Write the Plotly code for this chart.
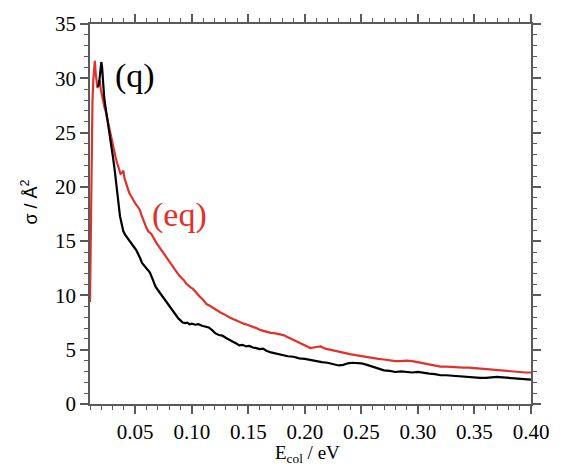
import plotly.graph_objects as go

# Collision energy (eV) and cross section (Å^2) for the quasiclassical run (q)
e_q = [0.0170, 0.0180, 0.0190, 0.0200, 0.0207, 0.0215, 0.0225, 0.0235, 0.0248, 0.0262,
       0.0277, 0.0290, 0.0305, 0.0320, 0.0336, 0.0350, 0.0365, 0.0380, 0.0395, 0.0410,
       0.0425, 0.0440, 0.0455, 0.0470, 0.0485, 0.0500, 0.0513, 0.0530, 0.0545, 0.0560,
       0.0575, 0.0590, 0.0610, 0.0630, 0.0650, 0.0665, 0.0680, 0.0700, 0.0720, 0.0740,
       0.0760, 0.0780, 0.0800, 0.0820, 0.0840, 0.0860, 0.0880, 0.0900, 0.0920, 0.0940,
       0.0960, 0.0980, 0.1000, 0.1030, 0.1060, 0.1090, 0.1120, 0.1150, 0.1180, 0.1210,
       0.1240, 0.1270, 0.1300, 0.1330, 0.1360, 0.1390, 0.1420, 0.1450, 0.1480, 0.1510,
       0.1540, 0.1570, 0.1600, 0.1630, 0.1660, 0.1700, 0.1740, 0.1780, 0.1810, 0.1850,
       0.1900, 0.1950, 0.2000, 0.2050, 0.2100, 0.2150, 0.2200, 0.2250, 0.2300, 0.2340,
       0.2380, 0.2420, 0.2460, 0.2500, 0.2550, 0.2600, 0.2650, 0.2700, 0.2750, 0.2800,
       0.2850, 0.2900, 0.2950, 0.3000, 0.3050, 0.3100, 0.3150, 0.3200, 0.3250, 0.3300,
       0.3350, 0.3400, 0.3450, 0.3500, 0.3550, 0.3600, 0.3650, 0.3700, 0.3750, 0.3800,
       0.3850, 0.3900, 0.3950, 0.4000]
sigma_q = [29.2, 29.5, 30.5, 31.5, 31.0, 29.5, 28.3, 27.5, 26.6, 25.8,
           24.9, 23.7, 22.6, 21.4, 19.8, 18.6, 17.3, 16.6, 15.9, 15.6,
           15.4, 15.1, 14.9, 14.7, 14.5, 14.3, 14.1, 13.8, 13.4, 13.0,
           12.8, 12.6, 12.4, 12.1, 11.6, 11.1, 10.8, 10.5, 10.2, 10.0,
           9.7, 9.3, 9.1, 8.8, 8.5, 8.2, 7.9, 7.7, 7.5, 7.45,
           7.5, 7.35, 7.4, 7.3, 7.35, 7.2, 7.15, 7.05, 6.8, 6.5,
           6.35, 6.3, 6.1, 5.9, 5.75, 5.6, 5.4, 5.45, 5.3, 5.35,
           5.2, 5.15, 5.05, 5.1, 4.9, 4.75, 4.65, 4.6, 4.5, 4.4,
           4.35, 4.2, 4.15, 4.05, 3.9, 3.85, 3.8, 3.65, 3.55, 3.6,
           3.75, 3.8, 3.8, 3.75, 3.6, 3.45, 3.3, 3.1, 3.05, 2.95,
           3.0, 2.95, 2.9, 2.95, 2.85, 2.8, 2.75, 2.65, 2.65, 2.6,
           2.55, 2.5, 2.5, 2.45, 2.4, 2.4, 2.45, 2.5, 2.45, 2.4,
           2.35, 2.3, 2.3, 2.25]

# Collision energy (eV) and cross section (Å^2) for the equilibrium run (eq)
e_eq = [0.0100, 0.0104, 0.0109, 0.0115, 0.0122, 0.0130, 0.0137, 0.0143, 0.0150, 0.0158,
        0.0166, 0.0175, 0.0185, 0.0195, 0.0205, 0.0215, 0.0228, 0.0240, 0.0252, 0.0265,
        0.0280, 0.0295, 0.0310, 0.0325, 0.0340, 0.0355, 0.0370, 0.0385, 0.0395, 0.0405,
        0.0418, 0.0430, 0.0445, 0.0460, 0.0475, 0.0490, 0.0505, 0.0520, 0.0540, 0.0555,
        0.0570, 0.0585, 0.0600, 0.0615, 0.0630, 0.0646, 0.0660, 0.0675, 0.0690, 0.0710,
        0.0730, 0.0750, 0.0770, 0.0790, 0.0810, 0.0830, 0.0850, 0.0870, 0.0890, 0.0910,
        0.0930, 0.0950, 0.0970, 0.0990, 0.1010, 0.1040, 0.1070, 0.1100, 0.1130, 0.1160,
        0.1190, 0.1220, 0.1250, 0.1280, 0.1310, 0.1340, 0.1370, 0.1400, 0.1430, 0.1460,
        0.1490, 0.1520, 0.1550, 0.1580, 0.1610, 0.1640, 0.1670, 0.1700, 0.1740, 0.1780,
        0.1810, 0.1850, 0.1900, 0.1950, 0.2000, 0.2050, 0.2100, 0.2140, 0.2180, 0.2220,
        0.2260, 0.2300, 0.2350, 0.2400, 0.2450, 0.2500, 0.2550, 0.2600, 0.2650, 0.2700,
        0.2750, 0.2800, 0.2850, 0.2900, 0.2950, 0.3000, 0.3050, 0.3100, 0.3150, 0.3200,
        0.3250, 0.3300, 0.3350, 0.3400, 0.3450, 0.3500, 0.3550, 0.3600, 0.3650, 0.3700,
        0.3750, 0.3800, 0.3850, 0.3900, 0.3950, 0.4000]
sigma_eq = [9.4, 14.0, 19.5, 24.5, 28.0, 30.0, 31.2, 31.6, 30.5, 29.3,
            29.1, 29.6, 29.8, 29.0, 28.4, 27.8, 27.3, 26.9, 26.3, 25.6,
            25.1, 24.2, 23.4, 22.8, 22.2, 21.6, 21.2, 21.3, 21.5, 20.8,
            20.3, 19.9, 19.5, 19.2, 18.9, 18.6, 18.4, 18.2, 17.9, 17.4,
            17.0, 16.5, 16.2, 15.9, 15.8, 15.6, 15.3, 15.0, 14.8, 14.5,
            14.2, 13.9, 13.5, 13.2, 12.9, 12.6, 12.3, 12.1, 11.8, 11.6,
            11.4, 11.1, 10.9, 10.75, 10.6, 10.2, 9.9, 9.6, 9.2, 9.05,
            8.85, 8.6, 8.45, 8.3, 8.1, 7.95, 7.8, 7.65, 7.5, 7.4,
            7.3, 7.2, 7.1, 6.95, 6.8, 6.7, 6.6, 6.55, 6.5, 6.45,
            6.35, 6.15, 5.9, 5.6, 5.35, 5.15, 5.25, 5.3, 5.1, 5.0,
            4.9, 4.8, 4.7, 4.6, 4.5, 4.4, 4.3, 4.2, 4.15, 4.1,
            4.0, 3.95, 3.95, 4.0, 3.95, 3.85, 3.75, 3.65, 3.55, 3.45,
            3.45, 3.4, 3.4, 3.35, 3.35, 3.3, 3.3, 3.25, 3.2, 3.15,
            3.05, 3.0, 2.95, 2.9, 2.9, 2.9]

x_ticks = [0.05, 0.10, 0.15, 0.20, 0.25, 0.30, 0.35, 0.40]
x_tick_labels = ["0.05", "0.10", "0.15", "0.20", "0.25", "0.30", "0.35", "0.40"]
y_ticks = [0, 5, 10, 15, 20, 25, 30, 35]
y_tick_labels = ["0", "5", "10", "15", "20", "25", "30", "35"]
x_range = [0.01, 0.40]
y_range = [0, 35]

RED = "#e2302b"
SERIF = "Liberation Serif, Times New Roman, serif"
AXIS_GREY = "#5a5a5a"

fig = go.Figure()
fig.add_trace(go.Scatter(x=e_eq, y=sigma_eq, mode="lines",
                         line=dict(color=RED, width=2.2), name="(eq)"))
fig.add_trace(go.Scatter(x=e_q, y=sigma_q, mode="lines",
                         line=dict(color="black", width=2.2), name="(q)"))
# empty trace so the top/right tick axes are drawn
fig.add_trace(go.Scatter(x=[], y=[], xaxis="x2", yaxis="y2", showlegend=False,
                         hoverinfo="skip"))

tick_style = dict(ticks="outside", ticklen=8, tickwidth=1.5, tickcolor=AXIS_GREY,
                  showgrid=False, zeroline=False)
x_minor = dict(dtick=0.01, tick0=0, ticks="outside", ticklen=4,
               tickwidth=1.2, tickcolor=AXIS_GREY, showgrid=False)
y_minor = dict(dtick=1, tick0=0, ticks="outside", ticklen=4,
               tickwidth=1.2, tickcolor=AXIS_GREY, showgrid=False)

fig.update_layout(
    xaxis=dict(range=x_range, tickvals=x_ticks, ticktext=x_tick_labels,
               showline=True, linecolor=AXIS_GREY, linewidth=1.5,
               minor=x_minor,
               tickfont=dict(family=SERIF, size=21, color="black"),
               **tick_style),
    yaxis=dict(range=y_range, tickvals=y_ticks, ticktext=y_tick_labels,
               showline=True, linecolor=AXIS_GREY, linewidth=1.5,
               minor=y_minor,
               tickfont=dict(family=SERIF, size=21, color="black"),
               **tick_style),
    xaxis2=dict(range=x_range, overlaying="x", side="top", anchor="y2",
                tickvals=x_ticks, showticklabels=False,
                showline=True, linecolor=AXIS_GREY, linewidth=1.5,
                minor=x_minor, **tick_style),
    yaxis2=dict(range=y_range, overlaying="y", side="right", anchor="x2",
                tickvals=y_ticks, showticklabels=False,
                showline=True, linecolor=AXIS_GREY, linewidth=1.5,
                minor=y_minor, **tick_style),
)

# Curve labels
fig.add_annotation(x=0.0306, y=30.2, xref="x", yref="y", text="(q)",
                   showarrow=False, xanchor="left", yanchor="middle",
                   font=dict(family=SERIF, size=34, color="black"))
fig.add_annotation(x=0.0888, y=17.4, xref="x", yref="y", text="(eq)",
                   showarrow=False, xanchor="center", yanchor="middle",
                   font=dict(family=SERIF, size=34, color=RED))

# Axis titles
fig.add_annotation(x=-0.136, y=0.53, xref="paper", yref="paper",
                   text="σ / Å<sup>2</sup>", textangle=-90, showarrow=False,
                   xanchor="center", yanchor="middle",
                   font=dict(family="Liberation Sans, Arial, sans-serif", size=18, color="black"))
fig.add_annotation(x=0.494, y=-0.132, xref="paper", yref="paper",
                   text="E<sub>col</sub> / eV", showarrow=False,
                   xanchor="center", yanchor="middle",
                   font=dict(family=SERIF, size=19, color="black"))

fig.update_layout(
    width=562, height=466,
    margin=dict(l=90, r=31, t=16, b=62),
    paper_bgcolor="white", plot_bgcolor="white",
    showlegend=False,
)

fig.write_html("out.html")
